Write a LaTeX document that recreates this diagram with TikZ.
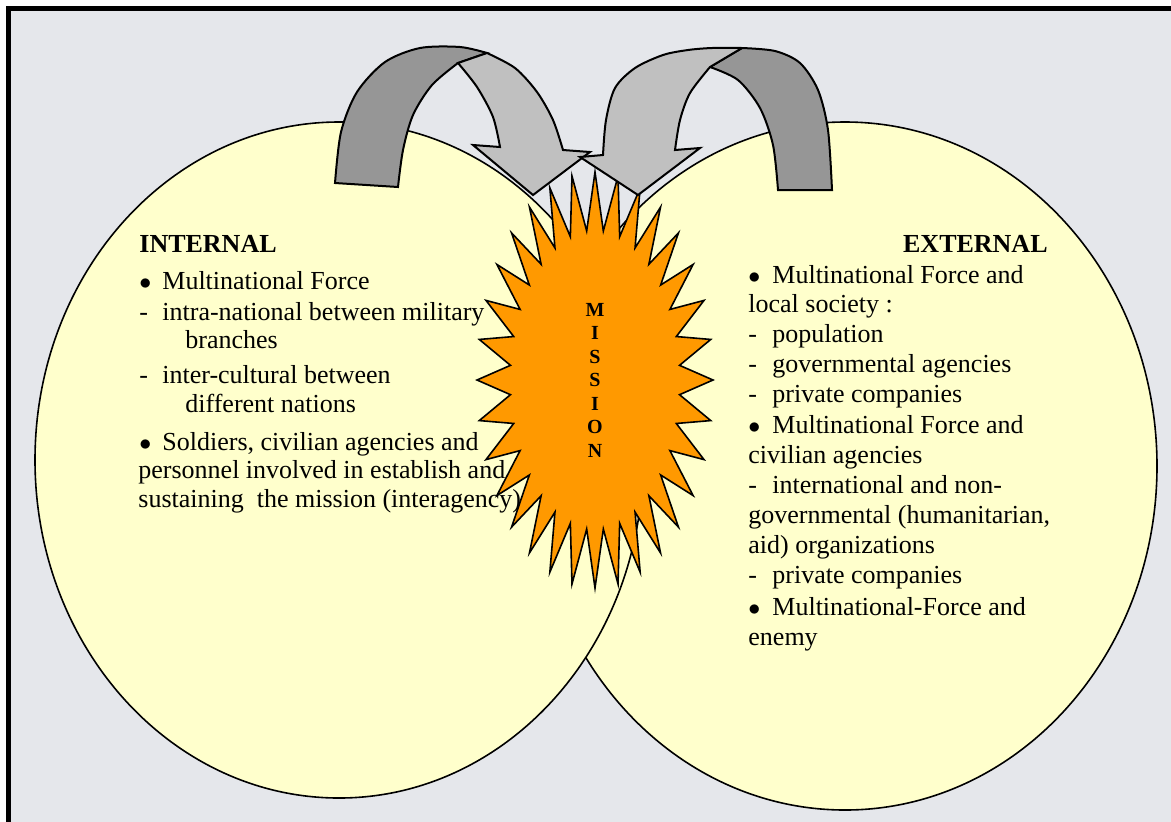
\documentclass[tikz,border=0pt]{standalone}
\usepackage{fontspec}
\setmainfont{Liberation Serif}
\usepackage{tikz}
\usetikzlibrary{shapes.geometric}
\definecolor{paleyellow}{RGB}{255,255,204}
\definecolor{burstorange}{RGB}{255,153,0}
\definecolor{lightgrey}{RGB}{192,192,192}
\definecolor{darkgrey}{RGB}{150,150,150}
\definecolor{marble}{RGB}{229,231,235}

\begin{document}
\begin{tikzpicture}[x=0.5pt, y=-0.5pt, line join=miter,
    sphere/.style={draw, line width=0.8pt, ellipse, fill=paleyellow, inner sep=0pt},
    face/.style={draw, line width=1pt},
    txt/.style={anchor=base west, inner sep=0pt, font=\fontsize{13}{15}\selectfont},
    head/.style={inner sep=0pt, font=\bfseries\fontsize{13}{15}\selectfont}]
  \clip (0,0) rectangle (1171,821);
  \fill[white] (0,0) rectangle (1171,821);
  \draw[fill=marble, line width=2.5pt] (8.5,8.5) rectangle (1200,850);

  % the two circles
  \node[sphere, minimum width=312pt, minimum height=344pt] (external) at (845,466) {};
  \node[sphere, minimum width=304pt, minimum height=338pt] (internal) at (339,460) {};

  % star
  \filldraw[fill=burstorange, line width=0.8pt, miter limit=20] (595,172)
    \foreach \i in {1,...,63} {-- ({595+118*(1-0.28*mod(\i,2))*sin(\i*5.625)}, {380-208*(1-0.28*mod(\i,2))*cos(\i*5.625)})} -- cycle;
  \node[font=\bfseries\fontsize{10}{11.75}\selectfont, align=center, inner sep=0pt] (mission) at (595,380) {M\\I\\S\\S\\I\\O\\N};

  % left arrow
  \filldraw[face, fill=darkgrey] (335,183) -- plot[smooth] coordinates {(335,183) (341,132) (357,92) (385,62) (420,48) (460,47) (487,53)}
    -- (458,63) -- plot[smooth] coordinates {(458,63) (432,85) (413,115) (403,150) (398,187)} -- cycle;
  \filldraw[face, fill=lightgrey] (487,53) -- plot[smooth] coordinates {(487,53) (515,68) (537,92) (553,120) (563,150)}
    -- (590,152) -- (533,195) -- (473,145) -- (500,147)
    -- plot[smooth] coordinates {(500,147) (493,117) (477,87) (458,63)} -- cycle;

  % right arrow
  \filldraw[face, fill=darkgrey] (742,48) -- plot[smooth] coordinates {(742,48) (775,51) (800,63) (818,90) (828,130) (832,190)}
    -- (778,190) -- plot[smooth] coordinates {(778,190) (773,145) (760,108) (738,80) (710,67)} -- cycle;
  \filldraw[face, fill=lightgrey] (742,48) -- plot[smooth] coordinates {(742,48) (712,48) (688,50) (663,55) (635,68) (615,88) (606,120) (603,155)}
    -- (580,157) -- (638,195) -- (700,148) -- (675,150)
    -- plot[smooth] coordinates {(675,150) (680,120) (690,93) (710,67)} -- cycle;

  % internal text
  \node[head, anchor=base west] (inthead) at (139,252) {INTERNAL};
  \foreach \x/\y/\t [count=\i] in {
      162/289/Multinational Force,
      162/320/intra-national between military,
      185/348/branches,
      162/383/inter-cultural between,
      185/412/different nations,
      162/450/{Soldiers, civilian agencies and},
      138/478/personnel involved in establish and,
      138/507/{sustaining\ \ the mission (interagency)}}
    \node[txt] (int\i) at (\x,\y) {\t};
  \foreach \y/\m [count=\i] in {289/$\bullet$, 320/-, 383/-, 450/$\bullet$}
    \node[txt] (intmark\i) at (139,\y) {\m};

  % external text
  \node[head, anchor=base east] (exthead) at (1048,252) {EXTERNAL};
  \foreach \x/\y/\t [count=\i] in {
      772/283/Multinational Force and,
      748/312/local society :,
      772/342/population,
      772/372/governmental agencies,
      772/402/private companies,
      772/433/Multinational Force and,
      748/463/civilian agencies,
      772/493/international and non-,
      748/523/{governmental (humanitarian,},
      748/553/aid) organizations,
      772/583/private companies,
      772/615/Multinational-Force and,
      748/645/enemy}
    \node[txt] (ext\i) at (\x,\y) {\t};
  \foreach \y/\m [count=\i] in {283/$\bullet$, 342/-, 372/-, 402/-, 433/$\bullet$, 493/-, 583/-, 615/$\bullet$}
    \node[txt] (extmark\i) at (748,\y) {\m};
\end{tikzpicture}
\end{document}
